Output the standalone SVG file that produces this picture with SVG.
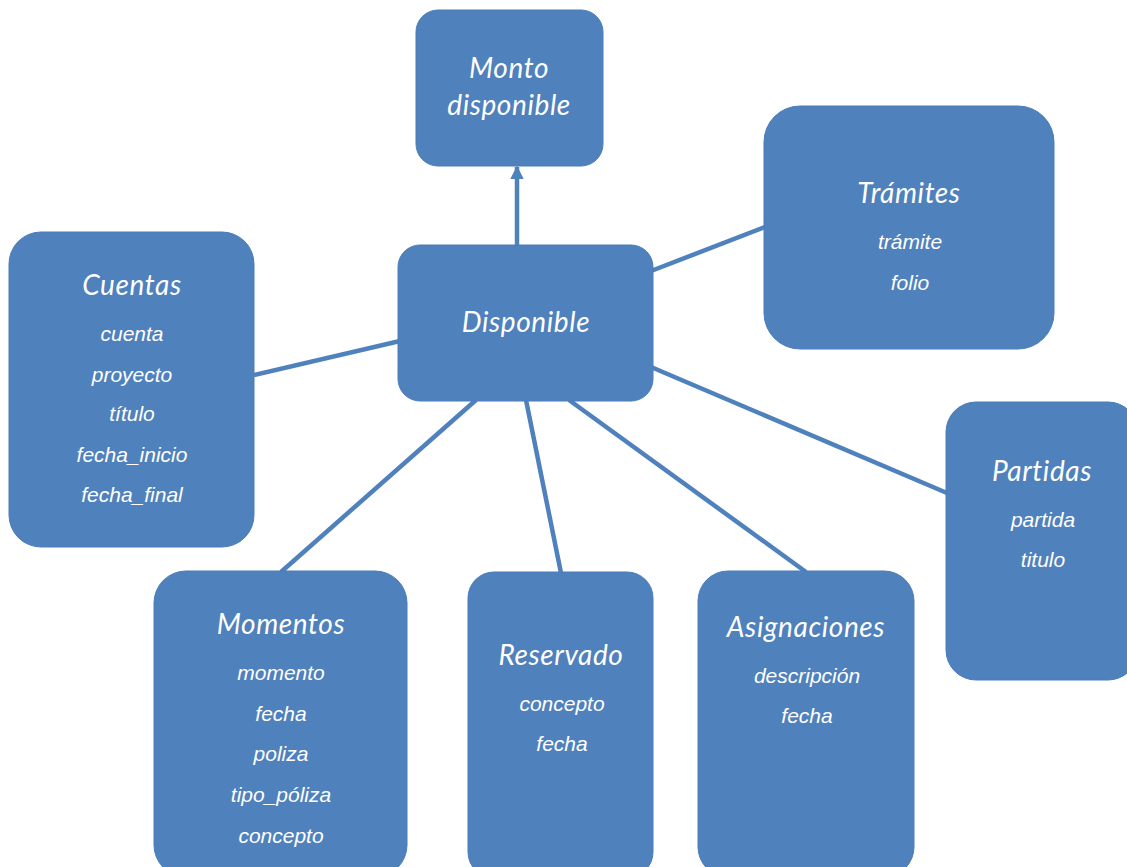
<svg xmlns="http://www.w3.org/2000/svg" width="1127" height="867" viewBox="0 0 1127 867">
<style>
.box{fill:#4F81BD;stroke:#4A7DB8;stroke-width:1}
.t{font-family:Lato,"Open Sans",sans-serif;font-style:italic;font-size:28px;letter-spacing:0.6px;fill:#fff;text-anchor:middle}
.f{font-family:"Liberation Sans",Arial,sans-serif;font-style:italic;font-size:21px;fill:#fff;text-anchor:middle}
.c{stroke:#4F81BD;stroke-width:4.5;fill:none}
</style>
<defs>
<marker id="ah" viewBox="0 0 10 10" refX="9" refY="5" markerWidth="3" markerHeight="3" orient="auto" markerUnits="strokeWidth">
<path d="M0,0 L10,5 L0,10 z" fill="#4F81BD"/>
</marker>
</defs>
<g id="connectors">
<line class="c" x1="517" y1="245" x2="517" y2="167" marker-end="url(#ah)"/>
<line class="c" x1="254" y1="375" x2="400" y2="341"/>
<line class="c" x1="651" y1="271" x2="765" y2="227"/>
<line class="c" x1="651" y1="367" x2="947" y2="493"/>
<line class="c" x1="281" y1="572" x2="476" y2="400"/>
<line class="c" x1="561" y1="573" x2="526" y2="400"/>
<line class="c" x1="806" y1="572" x2="569" y2="400"/>
</g>
<g id="monto">
<rect class="box" x="416" y="10" width="187" height="156" rx="22"/>
<text class="t" x="509" y="78">Monto</text>
<text class="t" x="509" y="115">disponible</text>
</g>
<g id="disponible">
<rect class="box" x="398" y="245" width="255" height="156" rx="22"/>
<text class="t" x="526" y="332">Disponible</text>
</g>
<g id="cuentas">
<rect class="box" x="9" y="232" width="245" height="315" rx="32"/>
<text class="t" x="132" y="295">Cuentas</text>
<text class="f" x="132" y="341">cuenta</text>
<text class="f" x="132" y="382">proyecto</text>
<text class="f" x="132" y="421">título</text>
<text class="f" x="132" y="462">fecha_inicio</text>
<text class="f" x="132" y="502">fecha_final</text>
</g>
<g id="tramites">
<rect class="box" x="764" y="106" width="290" height="243" rx="36"/>
<text class="t" x="909" y="203">Trámites</text>
<text class="f" x="910" y="249">trámite</text>
<text class="f" x="910" y="290">folio</text>
</g>
<g id="partidas">
<rect class="box" x="946" y="402" width="192" height="278" rx="30"/>
<text class="t" x="1042" y="481">Partidas</text>
<text class="f" x="1043" y="527">partida</text>
<text class="f" x="1043" y="567">titulo</text>
</g>
<g id="momentos">
<rect class="box" x="154" y="571" width="253" height="306" rx="32"/>
<text class="t" x="281" y="634">Momentos</text>
<text class="f" x="281" y="680">momento</text>
<text class="f" x="281" y="721">fecha</text>
<text class="f" x="281" y="761">poliza</text>
<text class="f" x="281" y="802">tipo_póliza</text>
<text class="f" x="281" y="843">concepto</text>
</g>
<g id="reservado">
<rect class="box" x="468" y="572" width="185" height="306" rx="26"/>
<text class="t" x="561" y="665">Reservado</text>
<text class="f" x="562" y="711">concepto</text>
<text class="f" x="562" y="751">fecha</text>
</g>
<g id="asignaciones">
<rect class="box" x="698" y="571" width="216" height="306" rx="30"/>
<text class="t" x="806" y="637">Asignaciones</text>
<text class="f" x="807" y="683">descripción</text>
<text class="f" x="807" y="723">fecha</text>
</g>
</svg>
